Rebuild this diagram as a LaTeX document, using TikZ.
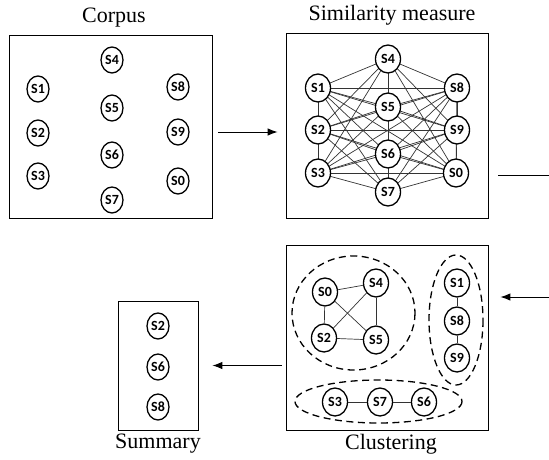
\documentclass[tikz,border=0pt]{standalone}
\usepackage{fontspec}
\setmainfont{Liberation Serif}
\newfontfamily\labfont{Carlito}
\usetikzlibrary{arrows.meta,shapes.geometric,backgrounds}

\tikzset{
  sent/.style={draw, ellipse, fill=white, line width=1.3pt, inner sep=0pt,
    minimum width=22pt, minimum height=26pt,
    font=\labfont\bfseries\fontsize{14}{14}\selectfont},
  sentbig/.style={sent, minimum width=25pt, minimum height=28pt},
  panel/.style={draw, line width=0.8pt, inner sep=0pt},
  title/.style={font=\fontsize{22}{24}\selectfont},
  link/.style={line width=0.7pt, black!80},
  grp/.style={line width=1.3pt, dash pattern=on 7pt off 4.5pt},
  flow/.style={line width=1pt, -{Latex[length=10pt,width=7.5pt]}}
}

\begin{document}
\begin{tikzpicture}[x=1pt,y=-1pt]

\useasboundingbox (0,0) rectangle (549,460);

% panels
\node[panel, minimum width=203pt, minimum height=183pt] (corpus) at (110.5,126.5) {};
\node[panel, minimum width=202pt, minimum height=185pt] (sim) at (387,125.5) {};
\node[panel, minimum width=202pt, minimum height=185pt] (clus) at (387,337.5) {};
\node[panel, minimum width=80pt, minimum height=129pt] (summ) at (158,365.5) {};

\node[title] (tcorpus) at (114,18) {Corpus};
\node[title] (tsim) at (392,15) {Similarity measure};
\node[title] (tclus) at (391,444) {Clustering};
\node[title] (tsumm) at (158,444) {Summary};

% corpus
\foreach \n/\x/\y in {4/112/60, 1/38/89, 8/178/87, 5/112/108, 2/38/133,
                      9/178/132, 6/112/155, 3/38/176, 0/178/181, 7/112/200}
    \node[sent] (c\n) at (\x,\y) {S\n};

% similarity measure
\foreach \n/\x/\y in {4/388/59, 1/318/88, 8/457/88, 5/388/107, 2/318/130,
                      9/457/130, 6/388/154, 3/318/173, 0/456/173, 7/388/192}
    \node[sentbig] (s\n) at (\x,\y) {S\n};

\begin{pgfonlayer}{background}
\foreach \a [count=\i] in {0,...,8}
    \foreach \b in {\i,...,9}
        \draw[link] (s\a.center) -- (s\b.center);
\end{pgfonlayer}

% clustering
\foreach \n/\x/\y in {0/325/292, 4/376/283, 2/324/338, 5/376/340,
                      1/457/283, 8/457/321, 9/457/358,
                      3/335/402, 7/380/402, 6/424/402}
    \node[sentbig] (k\n) at (\x,\y) {S\n};

\foreach \a/\b in {0/4, 0/2, 0/5, 2/4, 2/5, 4/5, 1/8, 8/9, 3/7, 7/6}
    \draw[link] (k\a) -- (k\b);

\draw[grp] (353.5,313) ellipse [x radius=61.5, y radius=57];
\draw[grp] (456,320) ellipse [x radius=27, y radius=65];
\draw[grp] (378.5,401.5) ellipse [x radius=83.5, y radius=21.5];

% summary
\node[sent] (m2) at (158,326) {S2};
\node[sent] (m6) at (158,367) {S6};
\node[sent] (m8) at (158,407) {S8};

% arrows
\coordinate (outR) at (549,175);
\coordinate (inR) at (549,297);

\draw[flow, shorten <=6pt, shorten >=8pt] ([yshift=-5.5pt]corpus.east) -- ([yshift=-6.5pt]sim.west);
\draw[line width=1pt, shorten <=10pt] (sim.east |- outR) -- (outR);
\draw[flow, shorten >=12pt] (inR) -- (clus.east |- inR);
\draw[flow, shorten <=4pt, shorten >=14pt] (clus.west |- summ.east) -- (summ.east);

\end{tikzpicture}
\end{document}
